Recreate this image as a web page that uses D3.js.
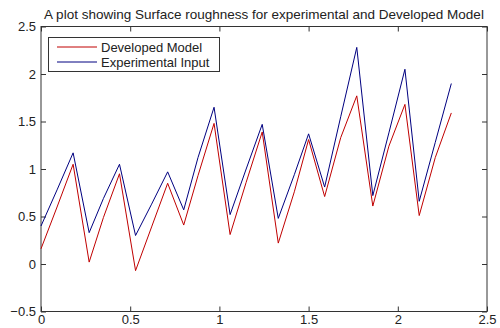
<!DOCTYPE html>
<html>
<head>
<meta charset="utf-8">
<script src="https://cdn.jsdelivr.net/npm/d3@7"></script>
<style>
  body { margin: 0; background: #fff; }
  svg text { font-family: "Liberation Sans", Arial, sans-serif; fill: #222; }
</style>
</head>
<body>
<div id="chart"></div>
<script>
const xValues = [0, 0.09, 0.18, 0.27, 0.35, 0.44, 0.53, 0.62, 0.71, 0.80, 0.88, 0.97, 1.06, 1.15,
  1.24, 1.33, 1.42, 1.50, 1.59, 1.68, 1.77, 1.86, 1.95, 2.04, 2.12, 2.21, 2.30];
const developed = [0.16, 0.60, 1.05, 0.02, 0.49, 0.95, -0.07, 0.39, 0.85, 0.41, 0.93, 1.48, 0.31, 0.86,
  1.39, 0.22, 0.76, 1.31, 0.71, 1.33, 1.77, 0.61, 1.24, 1.68, 0.51, 1.12, 1.59];
const experimental = [0.40, 0.78, 1.17, 0.33, 0.69, 1.05, 0.30, 0.63, 0.97, 0.57, 1.12, 1.65, 0.52, 1.00,
  1.47, 0.48, 0.94, 1.37, 0.81, 1.55, 2.28, 0.72, 1.38, 2.05, 0.66, 1.28, 1.90];
const xTicks = [0, 0.5, 1, 1.5, 2, 2.5];
const yTicks = [-0.5, 0, 0.5, 1, 1.5, 2, 2.5];
const seriesNames = ["Developed Model", "Experimental Input"];
const seriesColors = ["#c00000", "#000080"];

const width = 500, height = 328;
const margin = {left: 41, right: 13, top: 26.5, bottom: 16.5};

const svg = d3.select("#chart").append("svg")
  .attr("width", width)
  .attr("height", height);

const x = d3.scaleLinear().domain([0, 2.5]).range([margin.left, width - margin.right]);
const y = d3.scaleLinear().domain([-0.5, 2.5]).range([height - margin.bottom, margin.top]);

const axisStyle = g => {
  g.select(".domain").remove();
  g.selectAll(".tick line").attr("stroke", "#333");
  g.selectAll(".tick text").style("font-size", "13px");
};

// bottom + top
svg.append("g")
  .attr("transform", "translate(0," + y(-0.5) + ")")
  .call(d3.axisBottom(x).tickValues(xTicks).tickSize(-5).tickPadding(3).tickFormat(d3.format("")))
  .call(axisStyle);
svg.append("g")
  .attr("transform", "translate(0," + y(2.5) + ")")
  .call(d3.axisTop(x).tickValues(xTicks).tickSize(-5).tickFormat(""))
  .call(axisStyle);
// left + right
svg.append("g")
  .attr("transform", "translate(" + x(0) + ",0)")
  .call(d3.axisLeft(y).tickValues(yTicks).tickSize(-5).tickPadding(5).tickFormat(d3.format("")))
  .call(axisStyle);
svg.append("g")
  .attr("transform", "translate(" + x(2.5) + ",0)")
  .call(d3.axisRight(y).tickValues(yTicks).tickSize(-5).tickFormat(""))
  .call(axisStyle);

svg.append("rect")
  .attr("x", x(0)).attr("y", y(2.5))
  .attr("width", x(2.5) - x(0)).attr("height", y(-0.5) - y(2.5))
  .attr("fill", "none").attr("stroke", "#333");

const line = d3.line()
  .x((d, i) => x(xValues[i]))
  .y(d => y(d));

[developed, experimental].forEach((s, k) => {
  svg.append("path")
    .datum(s)
    .attr("fill", "none")
    .attr("stroke", seriesColors[k])
    .attr("stroke-width", 1)
    .attr("d", line);
});

// title
svg.append("text")
  .attr("x", 264)
  .attr("y", 19)
  .attr("text-anchor", "middle")
  .style("font-size", "13.5px")
  .text("A plot showing Surface roughness for experimental and Developed Model");

// legend
const legend = svg.append("g");
legend.append("rect")
  .attr("x", 48.5).attr("y", 37.5)
  .attr("width", 171).attr("height", 34)
  .attr("fill", "#fff").attr("stroke", "#333");
seriesNames.forEach((name, i) => {
  const ly = 47 + i * 15;
  legend.append("line")
    .attr("x1", 57).attr("x2", 97)
    .attr("y1", ly).attr("y2", ly)
    .attr("stroke", seriesColors[i]);
  legend.append("text")
    .attr("x", 101).attr("y", ly + 4.5)
    .style("font-size", "13px")
    .text(name);
});
</script>
</body>
</html>
